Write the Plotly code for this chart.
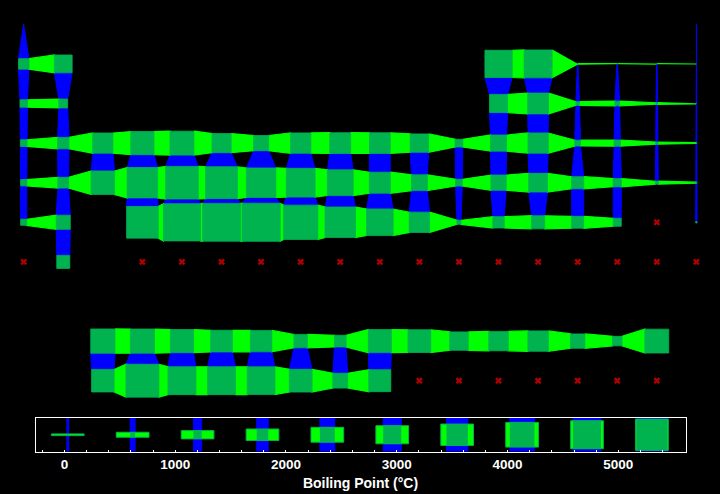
import plotly.graph_objects as go

N = None
U = float("nan")  # element present in the table, boiling point unknown

# Boiling points in kelvin. Columns 1..18.
period_1 = [20.28, N, N, N, N, N, N, N, N, N, N, N, N, N, N, N, N, 4.22]
period_2 = [1615, 2742, N, N, N, N, N, N, N, N, N, N, 4200, 4300, 77.36, 90.2, 85.03, 27.07]
period_3 = [1156, 1363, N, N, N, N, N, N, N, N, N, N, 2792, 3200, 553, 717.8, 239.1, 87.3]
period_4 = [1032, 1757, 3109, 3560, 3680, 2944, 2334, 3134, 3200, 3186, 2835, 1180, 2477, 3106, 887, 958, 332, 119.9]
period_5 = [961, 1655, 3618, 4682, 5017, 4912, 4538, 4423, 3968, 3236, 2435, 1040, 2345, 2875, 1860, 1261, 457.4, 165]
period_6 = [944, 2170, N, 4876, 5731, 5828, 5869, 5285, 4701, 4098, 3129, 629.9, 1746, 2022, 1837, 1235, U, 211]
period_7 = [U, 2010, N, U, U, U, U, U, U, U, U, U, U, U, U, U, U, U]
period_8 = [N] * 18
lanthanides = [N, N, 3737, 3716, 3563, 3347, 3300, 2067, 1802, 3546, 3503, 2840, 2993, 3141, 2223, 1469, 3675, N]
actinides = [N, N, 3471, 5061, 4300, 4300, 4273, 3501, 2284, 3383, U, U, U, U, U, U, U, N]

table = [period_1, period_2, period_3, period_4, period_5, period_6, period_7, period_8, lanthanides, actinides]

# Colour-key samples (degrees C) and axis ticks
key_values = [30, 616, 1202, 1788, 2373, 2959, 3545, 4131, 4717, 5303]
key_tick_vals = [0, 1000, 2000, 3000, 4000, 5000]
key_tick_text = ["0", "1000", "2000", "3000", "4000", "5000"]
axis_title = "Boiling Point (°C)"

GREEN = "#00ff00"
BLUE = "#0000ff"
CELL = "#00b34f"
CROSS = "#b00000"
K_PER_CELL = 6100.0


def size(v):
    return v / K_PER_CELL


def known(v):
    return v is not None and v == v


gx, gy, bx, by, cx, cy, mx, my = [], [], [], [], [], [], [], []


def poly(xs, ys, px, py):
    xs.extend(px + [px[0], None])
    ys.extend(py + [py[0], None])


for r, row in enumerate(table, start=1):
    for c, v in enumerate(row, start=1):
        if v is None:
            continue
        if not known(v):
            mx.append(c)
            my.append(r)
            continue
        s = size(v) / 2
        poly(cx, cy, [c - s, c + s, c + s, c - s], [r - s, r - s, r + s, r + s])
        if c < 18 and known(row[c]):
            n = size(row[c]) / 2
            poly(gx, gy, [c + s, c + 1 - n, c + 1 - n, c + s], [r - s, r - n, r + n, r + s])
        if r < len(table) and known(table[r][c - 1]):
            n = size(table[r][c - 1]) / 2
            poly(bx, by, [c - s, c + s, c + n, c - n], [r + s, r + s, r + 1 - n, r + 1 - n])

PX_PER_UNIT = 0.1108
KEY_PX_PER_K = 0.0056
BAR_PX = 32.7
kgx, kgy, kbx, kby, kcx, kcy = [], [], [], [], [], []
for v in key_values:
    w = KEY_PX_PER_K * (v + 273.15) / 2
    dx = w / PX_PER_UNIT
    L = BAR_PX / 2 / PX_PER_UNIT
    poly(kbx, kby, [v - dx, v + dx, v + dx, v - dx], [-20, -20, 20, 20])
    poly(kgx, kgy, [v - L, v + L, v + L, v - L], [-w, -w, w, w])
    poly(kcx, kcy, [v - dx, v + dx, v + dx, v - dx], [-w, -w, w, w])


def area(x, y, color, xa="x", ya="y", line=1.0, line_color=None):
    return go.Scatter(x=x, y=y, xaxis=xa, yaxis=ya, mode="lines", fill="toself", fillcolor=color,
                      line=dict(color=line_color or color, width=line), hoverinfo="skip", showlegend=False)


fig = go.Figure()
fig.add_trace(area(bx, by, BLUE, line=1.0))
fig.add_trace(area(gx, gy, GREEN, line=1.2))
fig.add_trace(area(cx, cy, CELL, line=0.8))
fig.add_trace(go.Scatter(x=mx, y=my, mode="markers", showlegend=False, hoverinfo="skip",
                         marker=dict(symbol="x", size=6, color=CROSS)))
fig.add_trace(area(kbx, kby, BLUE, "x2", "y2"))
fig.add_trace(area(kgx, kgy, GREEN, "x2", "y2", line=1, line_color=CELL))
fig.add_trace(area(kcx, kcy, CELL, "x2", "y2", line=0))

W, H = 720, 494
fig.update_layout(
    width=W, height=H, margin=dict(l=0, r=0, t=0, b=0), paper_bgcolor="black", plot_bgcolor="black",
    showlegend=False, font=dict(family="Liberation Sans", color="white"),
    xaxis=dict(domain=[0, 1], range=[1 - 23.7 / 39.57, 1 + (720 - 23.7) / 39.57], visible=False),
    yaxis=dict(domain=[0, 1], range=[1 + (494 - 24.3) / 39.6, 1 - 24.3 / 39.6], visible=False),
    xaxis2=dict(
        domain=[35.5 / W, 685.5 / W], anchor="y2", range=[-261, 5606],
        tickmode="array", tickvals=key_tick_vals, ticktext=key_tick_text,
        ticks="inside", ticklen=2, tickcolor="white", tickwidth=1,
        minor=dict(dtick=200, tick0=0, ticks="inside", ticklen=2, tickcolor="white", tickwidth=1, showgrid=False),
        showgrid=False, zeroline=False, showline=True, linecolor="white", linewidth=1, mirror=True,
        tickfont=dict(size=13.5, family="Liberation Sans", color="white", weight="bold"),
        title=dict(text=axis_title, standoff=7, font=dict(size=14, family="Liberation Sans", color="white", weight="bold")),
    ),
    yaxis2=dict(
        domain=[(H - 451.5) / H, (H - 418) / H], anchor="x2", range=[16.75, -16.75],
        showticklabels=False, ticks="", showgrid=False, zeroline=False,
        showline=True, linecolor="white", linewidth=1, mirror=True,
    ),
)
fig.write_html(
    "out.html",
    config={"displayModeBar": False},
    post_script="document.body.style.margin='0';document.body.style.background='black';",
)
